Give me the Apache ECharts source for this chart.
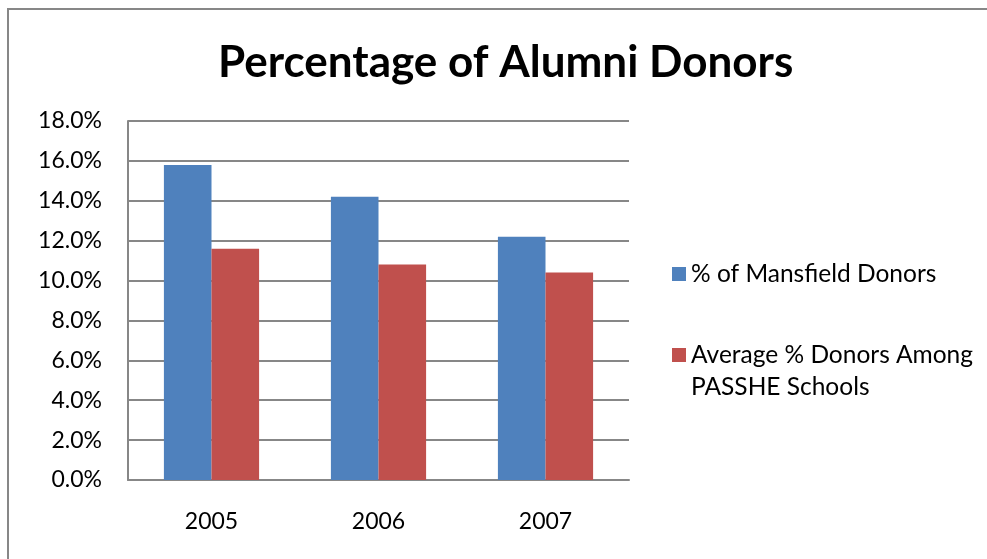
<!DOCTYPE html>
<html>
<head>
<meta charset="utf-8">
<title>Percentage of Alumni Donors</title>
<script src="https://cdn.jsdelivr.net/npm/echarts@6/dist/echarts.min.js"></script>
<style>
  html, body { margin: 0; padding: 0; background: #fff; }
  #chart { width: 987px; height: 559px; }
</style>
</head>
<body>
<div id="chart"></div>
<script>
// chart data
const years = ["2005", "2006", "2007"];
const mansfieldDonors = [15.8, 14.2, 12.2];
const passheAverage = [11.6, 10.8, 10.4];
const seriesNames = ["% of Mansfield Donors", "Average % Donors Among PASSHE Schools"];

const gray = "#878787";
const font = "Lato, 'Open Sans', sans-serif";

const myChart = echarts.init(document.getElementById("chart"));

myChart.setOption({
  animation: false,
  color: ["#4F81BD", "#C0504D"],
  title: {
    text: "Percentage of Alumni Donors",
    left: 213,
    top: 36,
    textStyle: {
      fontFamily: font,
      fontWeight: "bold",
      fontSize: 44,
      color: "#000",
    },
  },
  // outer frame of the chart area (only left and top edges fall inside the picture)
  graphic: [
    {
      type: "polyline",
      shape: { points: [[8, 559], [8, 9], [987, 9]] },
      style: { fill: "none", stroke: gray, lineWidth: 2 },
      silent: true,
    },
  ],
  legend: [
    {
      data: [seriesNames[0]],
      orient: "vertical",
      left: 672,
      top: 258,
      padding: 0,
      itemWidth: 14,
      itemHeight: 14,
      icon: "rect",
      textStyle: { fontFamily: font, fontSize: 24.5, color: "#000", lineHeight: 32 },
    },
    {
      data: [seriesNames[1]],
      orient: "vertical",
      left: 672,
      top: 307,
      padding: 0,
      itemWidth: 14,
      itemHeight: 14,
      icon: "rect",
      formatter: () => "\nAverage % Donors Among\nPASSHE Schools",
      textStyle: { fontFamily: font, fontSize: 24.5, color: "#000", lineHeight: 32 },
    },
  ],
  grid: {
    left: 128,
    right: 358,
    top: 121,
    bottom: 79,
  },
  xAxis: {
    type: "category",
    data: years,
    axisLine: { lineStyle: { color: gray, width: 2 } },
    axisTick: { show: false },
    axisLabel: {
      margin: 30,
      fontFamily: font,
      fontSize: 23,
      color: "#000",
    },
  },
  yAxis: {
    type: "value",
    min: 0,
    max: 18,
    interval: 2,
    axisLine: { show: true, lineStyle: { color: gray, width: 2 } },
    axisTick: { show: false },
    splitLine: { lineStyle: { color: gray, width: 2 } },
    axisLabel: {
      margin: 26,
      fontFamily: font,
      fontSize: 23,
      color: "#000",
      formatter: (v) => v.toFixed(1) + "%",
    },
  },
  series: [
    {
      name: seriesNames[0],
      type: "bar",
      data: mansfieldDonors,
      barGap: "0%",
      barCategoryGap: "43%",
    },
    {
      name: seriesNames[1],
      type: "bar",
      data: passheAverage,
      barGap: "0%",
      barCategoryGap: "43%",
    },
  ],
});
</script>
</body>
</html>
